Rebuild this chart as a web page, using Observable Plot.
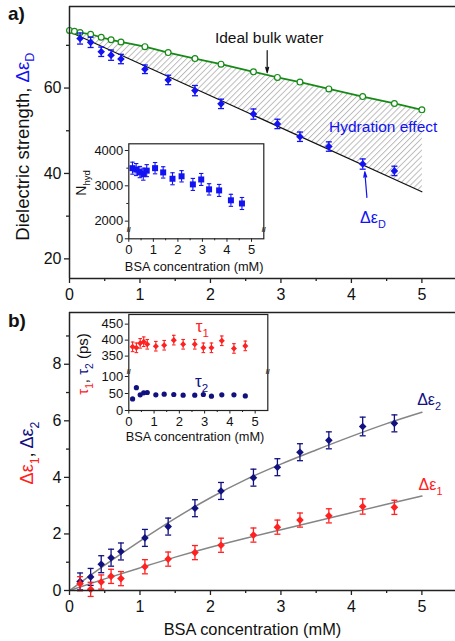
<!DOCTYPE html>
<html>
<head>
<meta charset="utf-8">
<script src="https://cdn.jsdelivr.net/npm/d3@7"></script>
<script src="https://cdn.jsdelivr.net/npm/@observablehq/plot@0.6"></script>
<style>
html,body{margin:0;padding:0;background:#fff;}
#fig{position:relative;width:455px;height:641px;overflow:hidden;background:#fff;}
#fig svg{position:absolute;}
</style>
</head>
<body>
<div id="fig"></div>
<script>
const FONT = '"Liberation Sans", Arial, Helvetica, sans-serif';
const BLUE = "#1212f2", GREEN = "#168a16", NAVY = "#11117f", RED = "#ff2020", AXIS = "#222", FIT = "#858585";

// ---------- data ----------
const conc = [0.15, 0.30, 0.45, 0.59, 0.73, 1.07, 1.40, 1.78, 2.15, 2.61, 2.95, 3.27, 3.68, 4.16, 4.61];
// panel a
const bulkConc = [0, 0.07, 0.15, 0.30, 0.45, 0.59, 0.73, 1.07, 1.40, 1.78, 2.15, 2.61, 2.95, 3.27, 3.68, 4.16, 4.61, 5.00];
const bulkEps  = [73.5, 73.3, 73.0, 72.6, 71.9, 71.3, 70.8, 69.7, 68.3, 66.9, 65.6, 63.8, 62.5, 61.4, 59.8, 58.0, 56.4, 54.9];
const epsD     = [71.6, 70.7, 68.5, 67.7, 66.8, 64.4, 61.9, 59.4, 56.3, 53.9, 51.6, 48.6, 46.3, 42.2, 40.6];
const epsDErr  = [1.3, 1.2, 1.1, 1.2, 1.1, 1.0, 1.1, 1.2, 1.1, 1.2, 1.1, 1.1, 1.1, 1.2, 1.1];
const fitDConc = [0, 5];
const fitD     = [73.2, 35.7];
// inset a
const nHyd     = [3500, 3460, 3390, 3330, 3430, 3500, 3380, 3200, 3270, 3040, 3180, 2900, 2870, 2590, 2500];
const nHydErr  = [170, 170, 160, 170, 170, 160, 160, 170, 160, 170, 170, 160, 170, 170, 170];
// panel b
const eps1     = [0.24, 0.04, 0.30, 0.50, 0.42, 0.84, 1.11, 1.34, 1.60, 1.96, 2.24, 2.49, 2.64, 2.97, 2.94];
const eps1Err  = [0.25, 0.25, 0.25, 0.25, 0.25, 0.25, 0.25, 0.25, 0.25, 0.25, 0.25, 0.25, 0.25, 0.27, 0.25];
const eps2     = [0.32, 0.48, 0.93, 1.16, 1.38, 1.86, 2.26, 2.91, 3.52, 3.99, 4.36, 4.89, 5.31, 5.80, 5.91];
const eps2Err  = [0.30, 0.30, 0.30, 0.30, 0.30, 0.30, 0.30, 0.30, 0.30, 0.30, 0.30, 0.30, 0.30, 0.33, 0.30];
const fitConc  = [0, 0.5, 1, 1.5, 2, 2.5, 3, 3.5, 4, 4.5, 5];
const fit1     = [0, 0.41, 0.80, 1.18, 1.53, 1.85, 2.15, 2.45, 2.75, 3.05, 3.34];
const fit2     = [0, 0.90, 1.75, 2.55, 3.28, 3.92, 4.47, 4.97, 5.45, 5.90, 6.30];
// inset b
const tau1     = [379, 376, 390, 395, 387, 381, 384, 400, 387, 387, 376, 376, 398, 374, 382];
const tau1Err  = [15, 15, 15, 15, 15, 15, 15, 15, 15, 15, 15, 15, 15, 15, 15];
const tau2     = [34, 67, 46, 52, 53, 46, 48, 47, 45, 45, 47, 42, 46, 46, 43];
// ticks
const xTicks = [0, 1, 2, 3, 4, 5];
const xMinor = [0.5, 1.5, 2.5, 3.5, 4.5];
const yTicksA = [20, 40, 60], yMinorA = [30, 50, 70];
const yTicksB = [0, 2, 4, 6, 8], yMinorB = [1, 3, 5, 7, 9];
const nHydTicks = [2000, 3000, 4000], nHydMinor = [2500, 3500];
const tauLowTicks = [0, 50, 100], tauHighTicks = [350, 400, 450];

// ---------- helpers ----------
const rows = (xs, vs, es) => xs.map((c, i) => ({c, v: vs[i], e: es ? es[i] : 0}));
const cap = {draw(ctx, size) { const w = Math.sqrt(size / Math.PI); ctx.moveTo(-w, 0); ctx.lineTo(w, 0); }};
const diamond = {draw(ctx, size) { const r = Math.sqrt(size / Math.PI) * 1.12; ctx.moveTo(0, -r); ctx.lineTo(r, 0); ctx.lineTo(0, r); ctx.lineTo(-r, 0); ctx.closePath(); }};
const square = {draw(ctx, size) { const h = Math.sqrt(size / Math.PI); ctx.rect(-h, -h, 2 * h, 2 * h); }};

function errorBars(data, color, capR, sw, y = d => d.v) {
  return [
    Plot.ruleX(data, {x: "c", y1: d => y({v: d.v - d.e}), y2: d => y({v: d.v + d.e}), stroke: color, strokeWidth: sw}),
    Plot.dot(data, {x: "c", y: d => y({v: d.v - d.e}), symbol: cap, r: capR, stroke: color, fill: "none", strokeWidth: sw}),
    Plot.dot(data, {x: "c", y: d => y({v: d.v + d.e}), symbol: cap, r: capR, stroke: color, fill: "none", strokeWidth: sw})
  ];
}

function rich(svg, x, y, parts, o = {}) {
  const size = o.size || 16;
  const t = d3.select(svg).append("text")
    .attr("transform", `translate(${x},${y})` + (o.rotate ? ` rotate(${o.rotate})` : ""))
    .attr("text-anchor", o.anchor || "start")
    .attr("font-family", FONT).attr("font-size", size)
    .attr("font-weight", o.weight || "normal");
  let shift = 0;
  for (const p of parts) {
    const s = p.sub ? size * 0.32 : 0;
    const ts = t.append("tspan").text(p.t).attr("fill", p.c || "#111");
    if (s !== shift) ts.attr("dy", s - shift);
    if (p.sub) ts.attr("font-size", size * 0.68);
    shift = s;
  }
}

function hatchDefs() {
  const defs = d3.create("svg:defs");
  const p = defs.append("pattern").attr("id", "hatch").attr("patternUnits", "userSpaceOnUse")
    .attr("width", 4.2).attr("height", 4.2).attr("patternTransform", "rotate(45)");
  p.append("line").attr("x1", 0.5).attr("y1", 0).attr("x2", 0.5).attr("y2", 4.2)
    .attr("stroke", "#b4b4b4").attr("stroke-width", 0.9);
  return defs.node();
}

const baseStyle = {background: "transparent", fontFamily: FONT, color: "#111", maxWidth: "none", overflow: "visible"};
const fig = document.getElementById("fig");
function place(svg, left, top) { svg.style.left = left + "px"; svg.style.top = top + "px"; fig.appendChild(svg); return svg; }

// ---------- panel a ----------
const bulkRows = rows(bulkConc, bulkEps);
const dRows = rows(conc, epsD, epsDErr);
const fitDRows = rows(fitDConc, fitD);
const hatchRows = [...bulkRows, ...fitDRows.slice().reverse()];
const yDomA = [15.4, 79.1];

const pa = Plot.plot({
  width: 455, height: 305,
  marginLeft: 69, marginRight: 0, marginTop: 6, marginBottom: 27,
  style: baseStyle,
  x: {domain: [0, 5.477]},
  y: {domain: yDomA},
  marks: [
    hatchDefs,
    Plot.line(hatchRows, {x: "c", y: "v", fill: "url(#hatch)", stroke: "none"}),
    Plot.line(fitDRows, {x: "c", y: "v", stroke: "#111", strokeWidth: 1.2}),
    Plot.line(bulkRows, {x: "c", y: "v", stroke: GREEN, strokeWidth: 1.7}),
    Plot.dot(bulkRows, {x: "c", y: "v", r: 2.9, stroke: GREEN, fill: "white", strokeWidth: 1.2}),
    ...errorBars(dRows, BLUE, 3, 1.3),
    Plot.dot(dRows, {x: "c", y: "v", symbol: diamond, r: 3.4, fill: BLUE, stroke: "none"}),
    Plot.arrow([{x1: 2.805, y1: 68.8, x2: 2.805, y2: 63.6}], {x1: "x1", y1: "y1", x2: "x2", y2: "y2", stroke: "#111", strokeWidth: 1.2, headLength: 7, headAngle: 30}),
    Plot.arrow([{x1: 4.22, y1: 34.4, x2: 4.19, y2: 40.4}], {x1: "x1", y1: "y1", x2: "x2", y2: "y2", stroke: BLUE, strokeWidth: 1.2, headLength: 7, headAngle: 30}),
    Plot.ruleX([0], {stroke: AXIS, strokeWidth: 1.5}),
    Plot.ruleY(yDomA, {stroke: AXIS, strokeWidth: 1.5}),
    Plot.axisX({ticks: xTicks, tickSize: 5, tickPadding: 5, fontSize: 16, tickFormat: d => String(d), label: null, stroke: AXIS, strokeWidth: 1.3}),
    Plot.axisX({ticks: xMinor, tickSize: 3, tickFormat: () => "", label: null, stroke: AXIS, strokeWidth: 1.3}),
    Plot.axisY({ticks: yTicksA, tickSize: 5, tickPadding: 3, fontSize: 16, tickFormat: d => String(d), label: null, stroke: AXIS, strokeWidth: 1.3}),
    Plot.axisY({ticks: yMinorA, tickSize: 3, tickFormat: () => "", label: null, stroke: AXIS, strokeWidth: 1.3})
  ]
});
place(pa, 0, 0);
{
  const X = v => pa.scale("x").apply(v), Y = v => pa.scale("y").apply(v);
  rich(pa, 8, 20, [{t: "a)"}], {size: 19, weight: "bold"});
  rich(pa, 28.5, 146.7, [{t: "Dielectric strength, "}, {t: "Δε", c: BLUE}, {t: "D", sub: true, c: BLUE}], {size: 18.5, anchor: "middle", rotate: -90});
  rich(pa, X(2.07), Y(70.4), [{t: "Ideal bulk water"}], {size: 15.5});
  rich(pa, X(3.69), Y(49.6), [{t: "Hydration effect", c: BLUE}], {size: 15.5});
  rich(pa, X(4.13), Y(28.2), [{t: "Δε", c: BLUE}, {t: "D", sub: true, c: BLUE}], {size: 16});
}

// ---------- inset a ----------
const nRows = rows(conc, nHyd, nHydErr);
const nHydZero = 1500; // position of the "0" tick below the axis break
const ia = Plot.plot({
  width: 202, height: 145,
  marginLeft: 62.3, marginRight: 4.7, marginTop: 8.3, marginBottom: 41.7,
  style: baseStyle,
  x: {domain: [0, 5.5]},
  y: {domain: [nHydZero, 4190]},
  marks: [
    Plot.frame({stroke: AXIS, strokeWidth: 1.2}),
    ...errorBars(nRows, BLUE, 2.2, 1.1),
    Plot.dot(nRows, {x: "c", y: "v", symbol: square, r: 3, fill: BLUE, stroke: "none"}),
    Plot.text([0, 5.5], {x: d => d, y: () => 1760, text: () => "//", fontSize: 7, fontWeight: "bold", fill: AXIS}),
    Plot.axisX({ticks: xTicks, tickSize: 3.5, tickPadding: 2, fontSize: 13, tickFormat: d => String(d), label: null, stroke: AXIS}),
    Plot.axisX({ticks: xMinor, tickSize: 2, tickFormat: () => "", label: null, stroke: AXIS}),
    Plot.axisY({ticks: [nHydZero, ...nHydTicks], tickSize: 3.5, tickPadding: 2, fontSize: 13, tickFormat: d => d === nHydZero ? "0" : String(d), label: null, stroke: AXIS}),
    Plot.axisY({ticks: nHydMinor, tickSize: 2, tickFormat: () => "", label: null, stroke: AXIS})
  ]
});
place(ia, 66, 135);
rich(ia, 128.2, 135.8, [{t: "BSA concentration (mM)"}], {size: 12.8, anchor: "middle"});
rich(ia, 19.5, 48, [{t: "N"}, {t: "hyd", sub: true}], {size: 14, anchor: "middle", rotate: -90});

// ---------- panel b ----------
const e1Rows = rows(conc, eps1, eps1Err);
const e2Rows = rows(conc, eps2, eps2Err);
const f1Rows = rows(fitConc, fit1);
const f2Rows = rows(fitConc, fit2);
const yDomB = [0, 9.83];
const pb = Plot.plot({
  width: 455, height: 336,
  marginLeft: 69, marginRight: 0, marginTop: 7, marginBottom: 51,
  style: baseStyle,
  x: {domain: [0, 5.477]},
  y: {domain: yDomB},
  marks: [
    Plot.line(f2Rows, {x: "c", y: "v", stroke: FIT, strokeWidth: 1.5, curve: "monotone-x"}),
    Plot.line(f1Rows, {x: "c", y: "v", stroke: FIT, strokeWidth: 1.5, curve: "monotone-x"}),
    ...errorBars(e2Rows, NAVY, 3, 1.3),
    Plot.dot(e2Rows, {x: "c", y: "v", symbol: diamond, r: 3.4, fill: NAVY, stroke: "none"}),
    ...errorBars(e1Rows, RED, 3, 1.3),
    Plot.dot(e1Rows, {x: "c", y: "v", symbol: diamond, r: 3.4, fill: RED, stroke: "none"}),
    Plot.ruleX([0], {stroke: AXIS, strokeWidth: 1.5}),
    Plot.ruleY(yDomB, {stroke: AXIS, strokeWidth: 1.5}),
    Plot.axisX({ticks: xTicks, tickSize: 5, tickPadding: 5, fontSize: 16, tickFormat: d => String(d), label: null, stroke: AXIS, strokeWidth: 1.3}),
    Plot.axisX({ticks: xMinor, tickSize: 3, tickFormat: () => "", label: null, stroke: AXIS, strokeWidth: 1.3}),
    Plot.axisY({ticks: yTicksB, tickSize: 5, tickPadding: 3, fontSize: 16, tickFormat: d => String(d), label: null, stroke: AXIS, strokeWidth: 1.3}),
    Plot.axisY({ticks: yMinorB, tickSize: 3, tickFormat: () => "", label: null, stroke: AXIS, strokeWidth: 1.3})
  ]
});
place(pb, 0, 305);
{
  const X = v => pb.scale("x").apply(v), Y = v => pb.scale("y").apply(v);
  rich(pb, 8, 22, [{t: "b)"}], {size: 19, weight: "bold"});
  rich(pb, 33, 148, [{t: "Δε", c: RED}, {t: "1", sub: true, c: RED}, {t: ", "}, {t: "Δε", c: NAVY}, {t: "2", sub: true, c: NAVY}], {size: 18, anchor: "middle", rotate: -90});
  rich(pb, 252.5, 330, [{t: "BSA concentration (mM)"}], {size: 16.4, anchor: "middle"});
  rich(pb, X(4.94), Y(6.54), [{t: "Δε", c: NAVY}, {t: "2", sub: true, c: NAVY}], {size: 16});
  rich(pb, X(4.96), Y(3.55), [{t: "Δε", c: RED}, {t: "1", sub: true, c: RED}], {size: 16});
}

// ---------- inset b (broken axis: upper segment compressed above the break) ----------
const up = v => 160 + (v - 350) * 0.94;           // map of the upper segment onto the axis
const t1Rows = rows(conc, tau1, tau1Err);
const t2Rows = rows(conc, tau2);
const tauTickPos = [...tauLowTicks, ...tauHighTicks.map(up)];
const tauTickLab = [...tauLowTicks, ...tauHighTicks];
const ib = Plot.plot({
  width: 206, height: 145,
  marginLeft: 62.3, marginRight: 4.7, marginTop: 8, marginBottom: 41,
  style: baseStyle,
  x: {domain: [0, 5.5]},
  y: {domain: [0, 282.4]},
  marks: [
    Plot.frame({stroke: AXIS, strokeWidth: 1.2}),
    ...errorBars(t1Rows, RED, 1.8, 1.1, d => up(d.v)),
    Plot.dot(t1Rows, {x: "c", y: d => up(d.v), symbol: diamond, r: 2.7, fill: RED, stroke: "none"}),
    Plot.dot(t2Rows, {x: "c", y: "v", r: 2.6, fill: NAVY, stroke: "none"}),
    Plot.text([0, 5.5], {x: d => d, y: () => 113, text: () => "//", fontSize: 7, fontWeight: "bold", fill: AXIS}),
    Plot.axisX({ticks: xTicks, tickSize: 3.5, tickPadding: 2.5, fontSize: 13, tickFormat: d => String(d), label: null, stroke: AXIS}),
    Plot.axisX({ticks: xMinor, tickSize: 2, tickFormat: () => "", label: null, stroke: AXIS}),
    Plot.axisY({ticks: tauTickPos, tickSize: 3.5, tickPadding: 2, fontSize: 13, tickFormat: d => String(tauTickLab[tauTickPos.indexOf(d)]), label: null, stroke: AXIS})
  ]
});
place(ib, 66, 306);
{
  const X = v => ib.scale("x").apply(v), Y = v => ib.scale("y").apply(v);
  rich(ib, 129, 135, [{t: "BSA concentration (mM)"}], {size: 12.8, anchor: "middle"});
  rich(ib, 22, 58, [{t: "τ", c: RED}, {t: "1", sub: true, c: RED}, {t: ", "}, {t: "τ", c: NAVY}, {t: "2", sub: true, c: NAVY}, {t: " (ps)"}], {size: 15, anchor: "middle", rotate: -90});
  rich(ib, X(2.67), Y(up(400) + 23), [{t: "τ", c: RED}, {t: "1", sub: true, c: RED}], {size: 17});
  rich(ib, X(2.64), Y(68.5), [{t: "τ", c: NAVY}, {t: "2", sub: true, c: NAVY}], {size: 17});
}
</script>
</body>
</html>
